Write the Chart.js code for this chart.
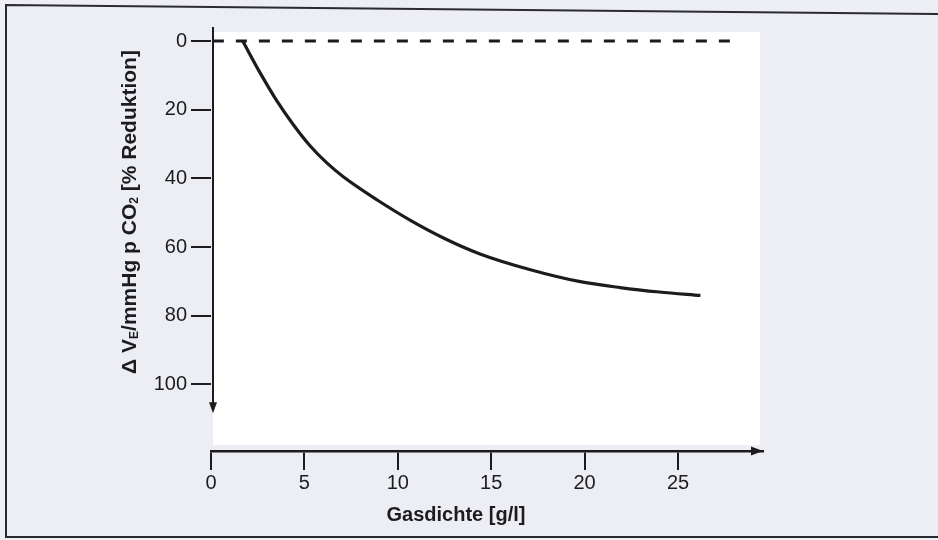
<!DOCTYPE html>
<html lang="de">
<head>
<meta charset="utf-8">
<title>Gasdichte</title>
<script src="https://cdn.jsdelivr.net/npm/chart.js@4/dist/chart.umd.min.js"></script>
<style>
  html, body { margin: 0; padding: 0; background: #eceef4; }
  #wrap { width: 938px; height: 540px; }
</style>
</head>
<body>
<div id="wrap"><canvas id="chart" width="938" height="540"></canvas></div>
<script>
// values
const densityGl    = [1.7, 2.6, 3.5, 4.4, 5.3, 6.2, 7.1, 8.9, 10.7, 12.5, 14.4, 17.1, 19.7, 21.9, 24.0, 26.2];
const reductionPct = [0,   9.0, 17.2, 24.3, 30.5, 35.5, 39.6, 46.3, 52.3, 57.5, 62.0, 66.6, 70.0, 71.8, 73.1, 74.1];

// dashed 0 % reference line
const baselineX = [0.1, 27.8];
const baselineY = [0, 0];

const xTicks = [0, 5, 10, 15, 20, 25];
const yTicks = [0, 20, 40, 60, 80, 100];

const xTitle = "Gasdichte [g/l]";
// y title pieces: [text, subscript?]
const yTitleParts = [["\u0394 V", false], ["E", true], ["/mmHg p CO", false], ["2", true], [" [% Reduktion]", false]];

const INK = "#1c1c1e";
const FONT = "'Liberation Sans', Arial, Helvetica, sans-serif";

const toXY = (xs, ys) => xs.map((x, i) => ({ x, y: ys[i] }));

// Background, frame, axis lines with arrows and the titles
const decor = {
  id: "decor",
  beforeDraw(chart) {
    const { ctx, chartArea: a } = chart;
    ctx.save();
    ctx.fillStyle = "#ffffff";
    ctx.fillRect(a.left + 2, a.top + 5, a.right - a.left - 5, a.bottom - a.top - 11);
    // scan frame
    ctx.strokeStyle = "#2a2a30";
    ctx.lineWidth = 2;
    ctx.beginPath();
    ctx.moveTo(938, 14); ctx.lineTo(6, 5); ctx.lineTo(6, 537); ctx.lineTo(938, 537);
    ctx.stroke();
    ctx.restore();
  },
  afterDraw(chart) {
    const { ctx, chartArea: a, scales: { y } } = chart;
    ctx.save();
    ctx.strokeStyle = INK;
    ctx.fillStyle = INK;

    // y axis line going down with an arrow
    const ax = a.left + 2;
    const yEnd = y.getPixelForValue(108.4);
    ctx.lineWidth = 2;
    ctx.beginPath();
    ctx.moveTo(ax, a.top);
    ctx.lineTo(ax, yEnd - 6);
    ctx.stroke();
    ctx.beginPath();
    ctx.moveTo(ax, yEnd);
    ctx.lineTo(ax - 4, yEnd - 11);
    ctx.lineTo(ax + 4, yEnd - 11);
    ctx.closePath();
    ctx.fill();

    // x axis arrow
    ctx.beginPath();
    ctx.moveTo(a.right, a.bottom);
    ctx.lineTo(a.right - 12, a.bottom - 4.5);
    ctx.lineTo(a.right - 12, a.bottom + 4.5);
    ctx.closePath();
    ctx.fill();

    // x title
    ctx.font = "bold 20px " + FONT;
    ctx.textAlign = "center";
    ctx.textBaseline = "alphabetic";
    ctx.fillText(xTitle, 456, 521);

    // y title, rotated, with subscripts
    const big = "bold 21px " + FONT, small = "bold 12px " + FONT;
    let total = 0;
    yTitleParts.forEach(([t, sub]) => { ctx.font = sub ? small : big; total += ctx.measureText(t).width; });
    ctx.translate(136, 212 + total / 2);
    ctx.rotate(-Math.PI / 2);
    ctx.textAlign = "left";
    let pos = 0;
    yTitleParts.forEach(([t, sub]) => {
      ctx.font = sub ? small : big;
      ctx.fillText(t, pos, sub ? 2 : 0);
      pos += ctx.measureText(t).width;
    });
    ctx.restore();
  }
};

new Chart(document.getElementById("chart"), {
  type: "line",
  data: {
    datasets: [
      {
        data: toXY(baselineX, baselineY),
        borderColor: INK,
        borderWidth: 3,
        borderDash: [11, 12],
        pointRadius: 0
      },
      {
        data: toXY(densityGl, reductionPct),
        borderColor: INK,
        borderWidth: 3.2,
        cubicInterpolationMode: "monotone",
        pointRadius: 0
      }
    ]
  },
  options: {
    responsive: false,
    animation: false,
    layout: { padding: { top: 27, right: 175, left: 0, bottom: 0 } },
    plugins: { legend: { display: false }, tooltip: { enabled: false } },
    scales: {
      x: {
        type: "linear",
        min: 0,
        max: 29.55,
        afterFit: s => { s.height = 89; },
        afterBuildTicks: s => { s.ticks = xTicks.map(v => ({ value: v })); },
        border: { display: true, color: INK, width: 2.5 },
        grid: { drawOnChartArea: false, drawTicks: true, tickLength: 19, color: INK, lineWidth: 2 },
        ticks: { color: INK, padding: 1, maxRotation: 0, autoSkip: false, font: { family: FONT, size: 20 } }
      },
      y: {
        type: "linear",
        reverse: true,
        min: -4.08,
        max: 119.4,
        afterFit: s => { s.width = 211; },
        afterBuildTicks: s => { s.ticks = yTicks.map(v => ({ value: v })); },
        border: { display: false },
        grid: { drawOnChartArea: false, drawTicks: true, tickLength: 20, color: INK, lineWidth: 2 },
        ticks: { color: INK, padding: 4, autoSkip: false, font: { family: FONT, size: 20 } }
      }
    }
  },
  plugins: [decor]
});
</script>
</body>
</html>
